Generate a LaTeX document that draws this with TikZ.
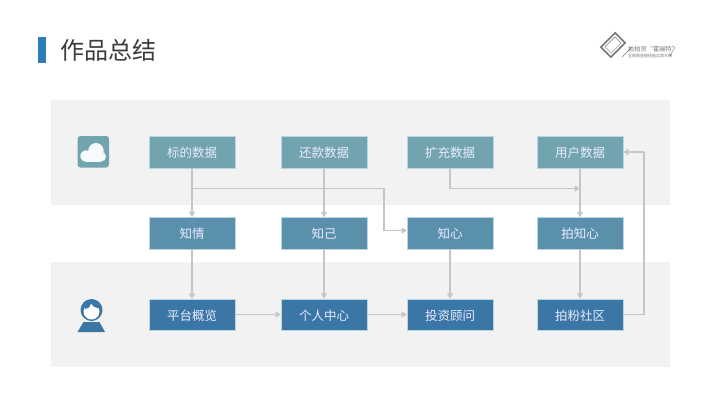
\documentclass[tikz,border=0pt]{standalone}
\usepackage{fontspec}
\setmainfont{Noto Sans CJK SC}[BoldFont={Noto Sans CJK SC}]
\usetikzlibrary{arrows.meta,positioning,calc}
\definecolor{bandgray}{HTML}{F2F2F2}
\definecolor{rowa}{HTML}{71A4AF}
\definecolor{rowb}{HTML}{5B90AD}
\definecolor{rowc}{HTML}{3B77A6}
\definecolor{edgelight}{HTML}{B9D6E2}
\definecolor{linkgray}{HTML}{C6C6C6}
\definecolor{titlebar}{HTML}{2A7DB5}
\definecolor{titletext}{HTML}{3C3C3C}
\definecolor{logogray}{HTML}{777777}
\tikzset{
  x=1pt,y=-1pt,
  box/.style={minimum width=86pt,minimum height=31.5pt,inner sep=0pt,outer sep=0pt,
    text height=12.5pt,text depth=1.5pt,
    draw=edgelight,line width=0.3pt,text=white!92!blue,font=\fontsize{12.5}{14}\selectfont},
  boxa/.style={box,fill=rowa},
  boxb/.style={box,fill=rowb},
  boxc/.style={box,fill=rowc},
  link/.style={draw=linkgray,line width=1.5pt},
  arrow/.style={link,-{Triangle[length=5.5pt,width=6pt,fill=linkgray]}},
}
\begin{document}
\begin{tikzpicture}
\useasboundingbox (0,0) rectangle (720,405);
\fill[white] (0,0) rectangle (720,405);
\fill[bandgray] (51,100) rectangle (670,205);
\fill[bandgray] (51,262) rectangle (670,367);
% title
\fill[titlebar] (37.5,37) rectangle (46,63);
\node[anchor=west,inner sep=0pt,text=titletext,font=\fontsize{24}{26}\selectfont] (title) at (60.5,50.5) {作品总结};
% logo
\begin{scope}[shift={(613,45)},rotate=45]
  \draw[logogray,line width=1.6pt] (-10,-7) rectangle (10,7);
  \draw[logogray,line width=0.5pt] (-7,-4.5) rectangle (7,4.5);
\end{scope}
\draw[logogray,line width=0.4pt] (622,57) -- (632,47);
\draw[logogray,line width=0.4pt] (670,56) -- (675,47);
\node[anchor=west,inner sep=0pt,text=logogray,font=\fontsize{6.2}{7}\selectfont] (logoa) at (628,49) {拍拍贷“霍瑞特”};
\node[anchor=west,inner sep=0pt,text=logogray,font=\fontsize{4}{5}\selectfont] (logob) at (628,55.5) {互联网金融技能实践大赛};
% cloud icon
\fill[rowa,rounded corners=3pt] (77.5,136) rectangle (109,167.5);
\fill[white!94!rowa] (86,156) circle[radius=5.7] (96,150.7) circle[radius=7.7] (101,156.5) circle[radius=5];
\fill[white!94!rowa] (86,152) rectangle (101,161.6);
% person icon
\fill[rowc] (91.5,310) circle[radius=11];
\fill[white] (91.5,311.5) circle[radius=8];
\fill[rowc] (84.5,309) .. controls (89,308.5) and (91,306) .. (91,303.5)
   .. controls (92.5,306.5) and (96,308) .. (99,308.5) -- (97,303) -- (86,303) -- cycle;
\fill[rowc] (83.5,322) -- (99.5,322) -- (105,332) -- (77.5,332) -- cycle;
% nodes
\node[boxa] (a1) at (192,152) {标的数据};
\node[boxa] (a2) at (324,152) {还款数据};
\node[boxa] (a3) at (450,152) {扩充数据};
\node[boxa] (a4) at (580,152) {用户数据};
\node[boxb] (b1) at (192,233) {知情};
\node[boxb] (b2) at (324,233) {知己};
\node[boxb] (b3) at (450,233) {知心};
\node[boxb] (b4) at (580,233) {拍知心};
\node[boxc] (c1) at (192,314.5) {平台概览};
\node[boxc] (c2) at (324,314.5) {个人中心};
\node[boxc] (c3) at (450,314.5) {投资顾问};
\node[boxc] (c4) at (580,314.5) {拍粉社区};
% junctions
\coordinate (ja) at (192,188.5);
\coordinate (jb) at (384,188.5);
\coordinate (jc) at (384,230.5);
\coordinate (jd) at (450,188.5);
\coordinate (je) at (580,188.5);
\coordinate (jf) at (644,314.5);
\coordinate (jg) at (644,152);
% links
\draw[arrow] (a1) -- (b1);
\draw[arrow] (a2) -- (b2);
\draw[arrow] (a4) -- (b4);
\draw[arrow] (b1) -- (c1);
\draw[arrow] (b2) -- (c2);
\draw[arrow] (b3) -- (c3);
\draw[arrow] (b4) -- (c4);
\draw[arrow] (c1) -- (c2);
\draw[arrow] (c2) -- (c3);
\draw[link] (ja) -- (jb) -- (jc);
\draw[arrow] (jc) -- (jc -| b3.west);
\draw[link] (a3) -- (jd);
\draw[arrow] (jd) -- (je);
\draw[link] (c4) -- (jf) -- (jg);
\draw[arrow] (jg) -- (a4);
\end{tikzpicture}
\end{document}
